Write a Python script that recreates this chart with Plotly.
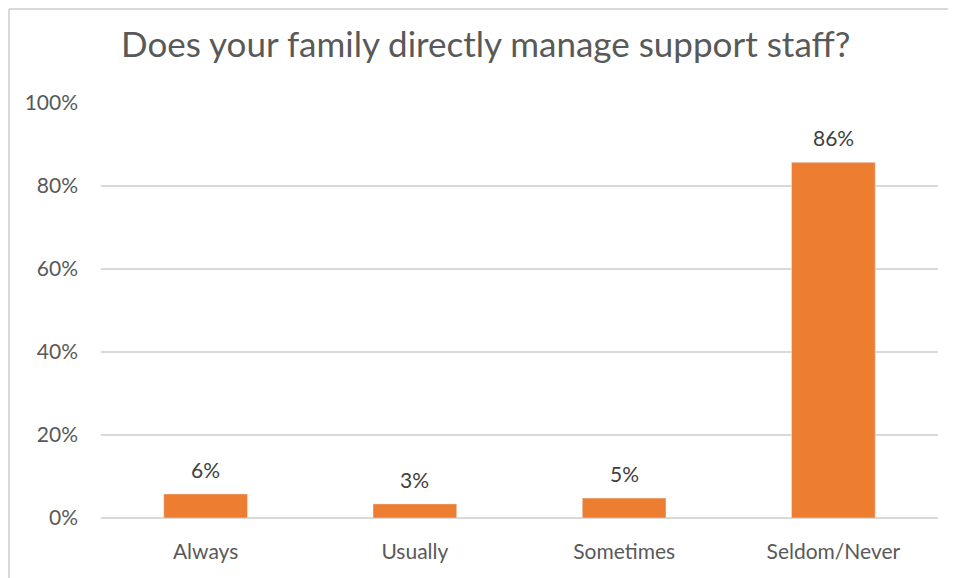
import plotly.graph_objects as go

categories = ["Always", "Usually", "Sometimes", "Seldom/Never"]
shares = [5.8, 3.4, 4.8, 85.7]
share_labels = ["6%", "3%", "5%", "86%"]
tick_vals = [0, 20, 40, 60, 80, 100]
tick_text = ["0%", "20%", "40%", "60%", "80%", "100%"]

font_family = "Lato, 'Open Sans', sans-serif"

fig = go.Figure(go.Bar(
    x=categories,
    y=shares,
    marker_color="#ED7D31",
    width=0.4,
    hoverinfo="skip",
))

# value labels sit a bit higher than plotly's "outside" text
for cat, val, lab in zip(categories, shares, share_labels):
    fig.add_annotation(
        x=cat, y=val, text=lab, showarrow=False,
        yanchor="bottom", yshift=10,
        font=dict(size=21, color="#404040", family=font_family),
    )

fig.update_layout(
    width=948,
    height=570,
    margin=dict(l=93, r=18, t=95, b=60),
    paper_bgcolor="white",
    plot_bgcolor="white",
    showlegend=False,
    font=dict(family=font_family, color="#595959"),
    title=dict(
        text="Does your family directly manage support staff?",
        x=0.504,
        xanchor="center",
        y=0.935,
        yanchor="middle",
        font=dict(size=35, color="#595959", family=font_family),
    ),
    xaxis=dict(
        showgrid=False,
        showline=False,
        ticks="",
        tickfont=dict(size=21, color="#595959"),
        ticklabelstandoff=19,
    ),
    yaxis=dict(
        range=[0, 100],
        tickvals=tick_vals,
        ticktext=tick_text,
        showgrid=True,
        gridcolor="#D9D9D9",
        gridwidth=2,
        zeroline=True,
        zerolinecolor="#D9D9D9",
        zerolinewidth=2,
        ticks="",
        tickfont=dict(size=21, color="#595959"),
        ticklabelstandoff=22,
    ),
    shapes=[
        dict(type="line", xref="paper", yref="paper",
             x0=-0.1099, x1=1.03, y0=1.2265, y1=1.2265,
             line=dict(color="#D9D9D9", width=2)),
        dict(type="line", xref="paper", yref="paper",
             x0=-0.1099, x1=-0.1099, y0=-0.2, y1=1.2265,
             line=dict(color="#D9D9D9", width=2)),
    ],
)

fig.write_html("out.html")
